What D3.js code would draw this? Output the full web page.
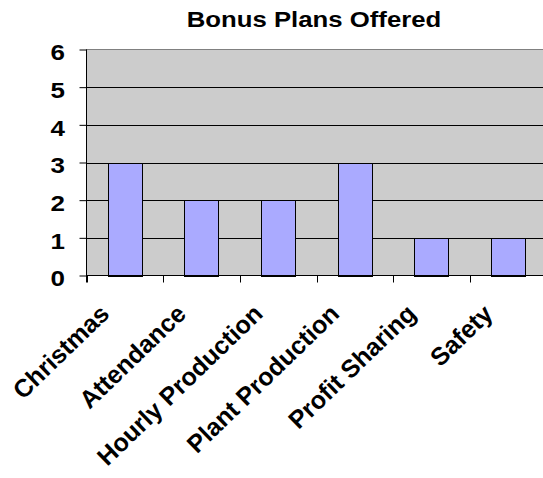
<!DOCTYPE html>
<html>
<head>
<meta charset="utf-8">
<script src="https://cdn.jsdelivr.net/npm/d3@7"></script>
<style>
  body { margin: 0; background: #fff; }
  text { font-family: "Liberation Sans", Arial, sans-serif; font-weight: bold; }
</style>
</head>
<body>
<div id="chart"></div>
<script>
const categories = ["Christmas", "Attendance", "Hourly Production", "Plant Production", "Profit Sharing", "Safety"];
const counts = [3, 2, 2, 3, 1, 1];
const yTicks = [0, 1, 2, 3, 4, 5, 6];
const title = "Bonus Plans Offered";

const width = 543;
const height = 478;
const plotLeft = 86.5, plotRight = 546.5, plotTop = 49.5, plotBottom = 275.5;

const svg = d3
  .select("#chart")
  .append("svg")
  .attr("width", width)
  .attr("height", height);

const x = d3
  .scaleBand()
  .domain(categories)
  .range([plotLeft, plotRight])
  .paddingInner(0.556)
  .paddingOuter(0.278);

const y = d3.scaleLinear().domain([0, 6]).range([plotBottom, plotTop]);

// plot background
svg
  .append("rect")
  .attr("x", plotLeft)
  .attr("y", plotTop)
  .attr("width", plotRight - plotLeft)
  .attr("height", plotBottom - plotTop)
  .attr("fill", "#cccccc")
  .attr("stroke", "#808080");

// gridlines
svg
  .selectAll(".grid")
  .data(yTicks.filter((d) => d > 0 && d < 6))
  .join("line")
  .attr("class", "grid")
  .attr("x1", plotLeft)
  .attr("x2", plotRight)
  .attr("y1", (d) => Math.round(y(d)) + 0.5)
  .attr("y2", (d) => Math.round(y(d)) + 0.5)
  .attr("stroke", "#000");

// bars
svg
  .selectAll(".bar")
  .data(categories)
  .join("rect")
  .attr("class", "bar")
  .attr("x", (d) => Math.round(x(d)) + 0.5)
  .attr("y", (d, i) => Math.round(y(counts[i])) + 0.5)
  .attr("width", Math.round(x.bandwidth()))
  .attr("height", (d, i) => Math.round(y(0)) - Math.round(y(counts[i])))
  .attr("fill", "#aaaaff")
  .attr("stroke", "#000");

// y axis
const yAxis = svg
  .append("g")
  .attr("transform", `translate(${plotLeft},0)`)
  .call(d3.axisLeft(y).tickValues(yTicks).tickSize(7).tickPadding(14).tickFormat(d3.format("d")));
yAxis.select(".domain").attr("stroke", "#000").attr("d", `M0,${plotTop}V${plotBottom + 7}`);
yAxis.selectAll(".tick line").attr("stroke", "#000");
// labels in the source are drawn a little wider than tall
yAxis
  .selectAll(".tick text")
  .attr("x", null)
  .attr("dy", "0.47em")
  .attr("transform", "translate(-21.5,0) scale(1.18,1)")
  .attr("font-size", 22)
  .attr("fill", "#000")
  .style("font-family", "'Liberation Sans', Arial, sans-serif");

// x axis: ticks at category boundaries
const step = x.step();
const gap = step - x.bandwidth();
const bounds = categories.map((d) => x(d) - gap / 2).concat([x(categories[categories.length - 1]) + x.bandwidth() + gap / 2]);

svg
  .append("line")
  .attr("x1", plotLeft)
  .attr("x2", plotRight)
  .attr("y1", plotBottom)
  .attr("y2", plotBottom)
  .attr("stroke", "#000");

svg
  .selectAll(".xtick")
  .data(bounds)
  .join("line")
  .attr("class", "xtick")
  .attr("x1", (d) => Math.round(d) + 0.5)
  .attr("x2", (d) => Math.round(d) + 0.5)
  .attr("y1", plotBottom)
  .attr("y2", plotBottom + 7)
  .attr("stroke", "#000");

svg
  .selectAll(".xlabel")
  .data(categories)
  .join("text")
  .attr("class", "xlabel")
  .attr("transform", (d) => `translate(${x(d) + x.bandwidth() / 2 - 14},${plotBottom + 40}) rotate(-44)`)
  .attr("text-anchor", "end")
  .attr("font-size", 25)
  .text((d) => d);

// title
svg
  .append("text")
  .attr("transform", "translate(314,27) scale(1.12,1)")
  .attr("text-anchor", "middle")
  .attr("font-size", 23)
  .text(title);
</script>
</body>
</html>
